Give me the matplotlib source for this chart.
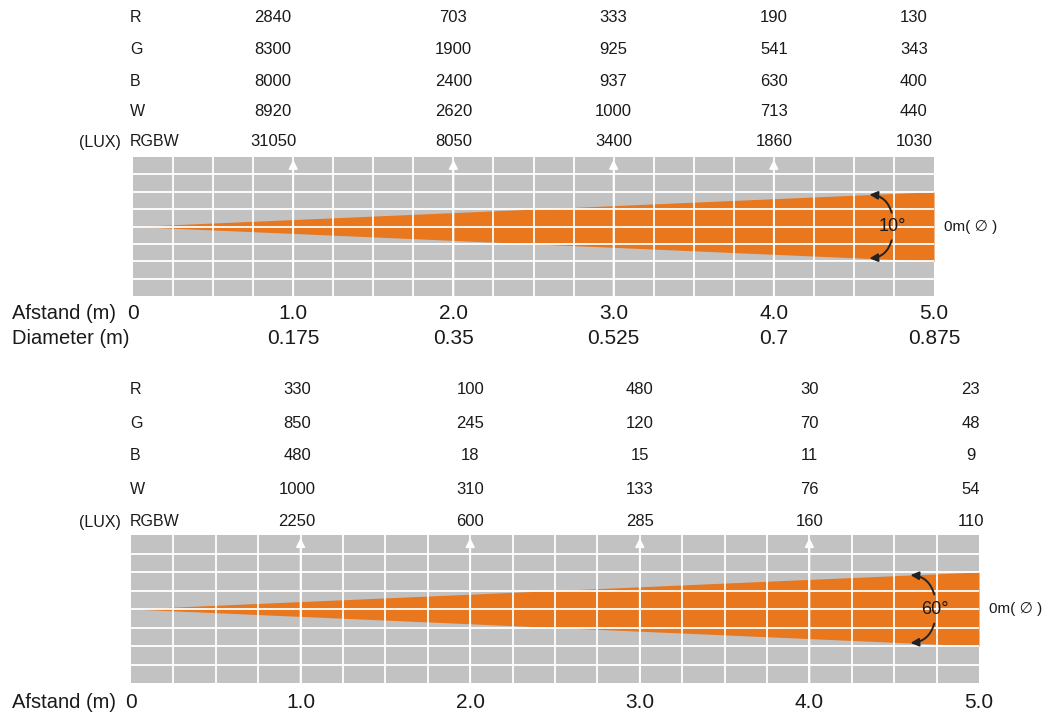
import numpy as np
import matplotlib
matplotlib.use("Agg")
import matplotlib.pyplot as plt
from matplotlib.patches import FancyArrowPatch
import matplotlib.transforms as mtrans

plt.rcParams['font.family'] = ['Liberation Sans', 'DejaVu Sans']

# data
rows = ["R", "G", "B", "W", "RGBW"]
lux_10 = [[2840, 703, 333, 190, 130],
          [8300, 1900, 925, 541, 343],
          [8000, 2400, 937, 630, 400],
          [8920, 2620, 1000, 713, 440],
          [31050, 8050, 3400, 1860, 1030]]
lux_60 = [[330, 100, 480, 30, 23],
          [850, 245, 120, 70, 48],
          [480, 18, 15, 11, 9],
          [1000, 310, 133, 76, 54],
          [2250, 600, 285, 160, 110]]
dist = [1.0, 2.0, 3.0, 4.0, 5.0]
dist_labels = ["1.0", "2.0", "3.0", "4.0", "5.0"]
diam_labels = ["0.175", "0.35", "0.525", "0.7", "0.875"]
beam_x = [0, 5]
beam_half = [0, 0.5]

W, H = 1055, 718
fig = plt.figure(figsize=(W / 100, H / 100), dpi=100)

GRAY = "#c2c2c2"
ORANGE = "#e8771e"
TXT = "#1a1a1a"


def fy(py):
    return 1 - py / H


def panel(box, vals, col_x, row_y, angle, afstand_y, diam_y=None):
    x0, y0, x1, y1 = box
    ax = fig.add_axes([x0 / W, 1 - y1 / H, (x1 - x0) / W, (y1 - y0) / H])
    ax.set_xlim(0, 5)
    ax.set_ylim(-1, 1)
    ax.set_facecolor(GRAY)
    for s in ax.spines.values():
        s.set_visible(False)
    ax.set_xticks([])
    ax.set_yticks([])

    ax.fill_between(beam_x, [-h for h in beam_half], beam_half,
                    color=ORANGE, lw=0, zorder=1)
    for gx in np.arange(0.25, 5, 0.25):
        ax.axvline(gx, color="white", lw=1.3, zorder=2)
    for gy in np.arange(-0.75, 1, 0.25):
        ax.axhline(gy, color="white", lw=1.3, zorder=2)

    for d in dist[:4]:
        ax.annotate("", xy=(d, 0.96), xytext=(d, -1),
                    arrowprops=dict(arrowstyle="-|>", color="white", lw=1.3,
                                    mutation_scale=13, shrinkA=0, shrinkB=0),
                    zorder=3)

    # angle marker
    ax.add_patch(FancyArrowPatch((4.74, 0.16), (4.58, 0.46),
                                 connectionstyle="arc3,rad=0.4",
                                 arrowstyle="-|>", mutation_scale=12,
                                 color="#222222", lw=1.4, zorder=4))
    ax.add_patch(FancyArrowPatch((4.74, -0.16), (4.58, -0.46),
                                 connectionstyle="arc3,rad=-0.4",
                                 arrowstyle="-|>", mutation_scale=12,
                                 color="#222222", lw=1.4, zorder=4))
    ax.text(4.74, 0, angle, ha="center", va="center", fontsize=13,
            color=TXT, zorder=5)
    ax.text(1.012, 0.5, "0m( \u2205 )", transform=ax.transAxes, ha="left",
            va="center", fontsize=11, color=TXT)

    tr = mtrans.blended_transform_factory(ax.transData, fig.transFigure)
    for r, lab in enumerate(rows):
        fig.text(130 / W, fy(row_y[r]), lab, ha="left", va="center",
                 fontsize=11.5, color=TXT)
        for c, v in enumerate(vals[r]):
            ax.text(col_x[c], fy(row_y[r]), str(v), transform=tr,
                    ha="center", va="center", fontsize=12, color=TXT)
    fig.text(121 / W, fy(row_y[4]), "(LUX)", ha="right", va="center",
             fontsize=11.5, color=TXT)

    fig.text(12 / W, fy(afstand_y), "Afstand (m)", ha="left", va="center",
             fontsize=14.5, color=TXT)
    ax.text(0, fy(afstand_y), "0", transform=tr, ha="center", va="center",
            fontsize=15, color=TXT)
    for d, lab in zip(dist, dist_labels):
        ax.text(d, fy(afstand_y), lab, transform=tr, ha="center",
                va="center", fontsize=15, color=TXT)
    if diam_y is not None:
        fig.text(12 / W, fy(diam_y), "Diameter (m)", ha="left", va="center",
                 fontsize=14.5, color=TXT)
        for d, lab in zip(dist, diam_labels):
            ax.text(d, fy(diam_y), lab, transform=tr, ha="center",
                    va="center", fontsize=15, color=TXT)
    return ax


panel((133, 157, 934, 296), lux_10, [0.875, 2.0, 3.0, 4.0, 4.875],
      [18, 50, 81, 112, 142], "10\u00b0", 313, 338)
panel((131, 535, 979, 683), lux_60, [0.98, 2.0, 3.0, 4.0, 4.95],
      [390, 423, 456, 490, 522], "60\u00b0", 703)

fig.savefig("out.png", dpi=100)
